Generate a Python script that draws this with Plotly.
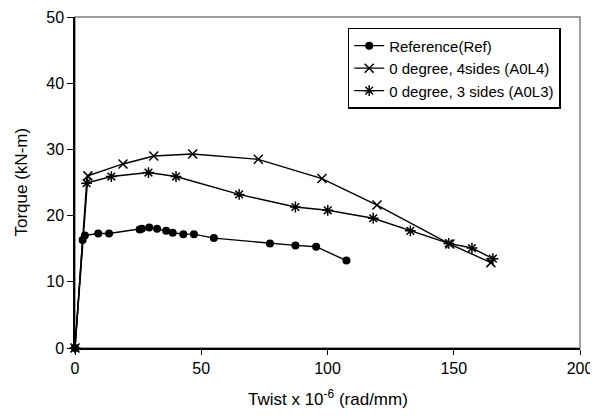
import plotly.graph_objects as go

# Twist (x 10^-6 rad/mm) vs torque (kN-m)
ref_twist = [0, 3.0, 3.9, 9.2, 13.5, 25.6, 26.5, 29.4, 32.5, 36.1, 38.7, 42.9, 47.1, 55.0, 77.2, 87.3, 95.5, 107.5]
ref_torque = [0, 16.3, 17.0, 17.3, 17.3, 17.9, 18.0, 18.2, 18.0, 17.7, 17.4, 17.2, 17.2, 16.6, 15.8, 15.5, 15.3, 13.2]

a0l4_twist = [0, 5.1, 19.0, 31.2, 46.6, 72.6, 97.8, 119.6, 148.5, 164.7]
a0l4_torque = [0, 26.0, 27.8, 29.0, 29.3, 28.5, 25.6, 21.6, 15.7, 12.9]

a0l3_twist = [0, 4.6, 14.4, 29.1, 40.0, 65.0, 87.3, 100.1, 118.1, 132.8, 148.0, 157.2, 165.5]
a0l3_torque = [0, 24.9, 25.9, 26.5, 25.9, 23.2, 21.3, 20.8, 19.6, 17.7, 15.8, 15.1, 13.5]

font = "Arial, Liberation Sans, sans-serif"

fig = go.Figure()

fig.add_trace(go.Scatter(x=ref_twist, y=ref_torque, mode="lines+markers", name="Reference(Ref)",
                         line=dict(color="black", width=1.4),
                         marker=dict(symbol="circle", size=8, color="black"),
                         cliponaxis=False))

fig.add_trace(go.Scatter(x=a0l4_twist, y=a0l4_torque, mode="lines+markers", name="0 degree, 4sides (A0L4)",
                         line=dict(color="black", width=1.4),
                         marker=dict(symbol="x-thin", size=9, color="black",
                                     line=dict(color="black", width=1.5)),
                         cliponaxis=False))

fig.add_trace(go.Scatter(x=a0l3_twist, y=a0l3_torque, mode="lines+markers", name="0 degree, 3 sides (A0L3)",
                         line=dict(color="black", width=1.4),
                         marker=dict(symbol="asterisk", size=9, color="black",
                                     line=dict(color="black", width=1.5)),
                         cliponaxis=False))

# grey frame on top and right of the plot area
fig.add_shape(type="rect", xref="paper", yref="paper", x0=0, y0=0, x1=1, y1=1,
              line=dict(color="#808080", width=1.5), layer="below")

fig.update_xaxes(range=[0, 200], dtick=50, ticks="outside", ticklen=5, tickcolor="black",
                 showline=True, linecolor="black", linewidth=1.5, showgrid=False, zeroline=False,
                 automargin=False, tickfont=dict(size=16))
fig.update_yaxes(range=[0, 50], dtick=10, ticks="outside", ticklen=6, tickcolor="black",
                 showline=True, linecolor="black", linewidth=1.5, showgrid=False, zeroline=False,
                 automargin=False, tickfont=dict(size=16))

# axis titles as annotations so they stay where the reference has them
fig.add_annotation(text="Twist x 10<sup>-6</sup> (rad/mm)", xref="paper", yref="paper",
                   x=0.5, y=0, yshift=-50, xanchor="center", yanchor="middle",
                   showarrow=False, font=dict(size=17))
fig.add_annotation(text="Torque (kN-m)", xref="paper", yref="paper",
                   x=0, y=0.5, xshift=-54, xanchor="center", yanchor="middle",
                   textangle=-90, showarrow=False, font=dict(size=17))

# page body has an 8px margin, so the figure is drawn 8px in from the window edge
fig.update_layout(
    width=590, height=408,
    margin=dict(l=67, r=18, t=9, b=68),
    paper_bgcolor="white", plot_bgcolor="white",
    font=dict(family=font, size=16, color="black"),
    showlegend=True,
    legend=dict(x=0.54, y=0.967, xanchor="left", yanchor="top",
                bgcolor="white", bordercolor="black", borderwidth=1.5,
                font=dict(size=15), itemwidth=30, tracegroupgap=0),
)

fig.write_html("out.html")
